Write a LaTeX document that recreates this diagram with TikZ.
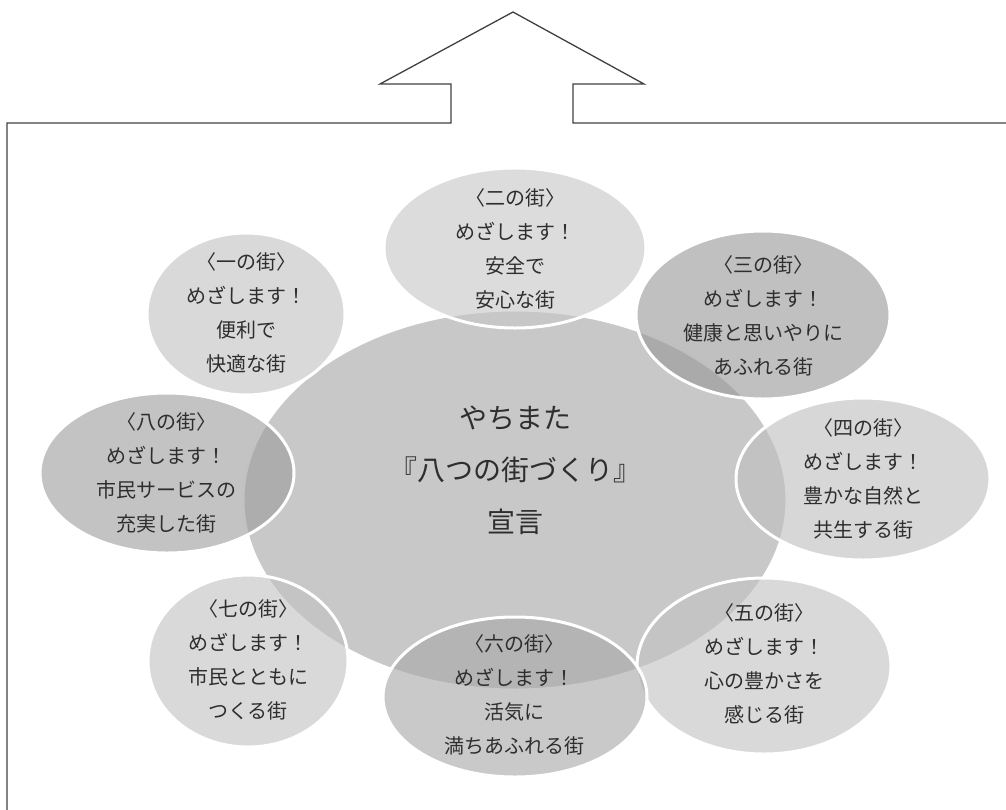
\documentclass[tikz,border=0pt]{standalone}
\usepackage{fontspec}
\newfontfamily\cjk{Noto Sans CJK JP}
\definecolor{framecol}{HTML}{404040}
\definecolor{txt}{HTML}{2E2E2E}
\definecolor{ctr}{HTML}{C8C8C8}
\definecolor{gA}{gray}{0.78}
\definecolor{gB}{gray}{0.76}
\definecolor{gC}{gray}{0.60}
\definecolor{gD}{gray}{0.62}
\definecolor{gE}{gray}{0.75}
\definecolor{gF}{gray}{0.66}
\begin{document}
\begin{tikzpicture}[x=1pt,y=-1pt,
  frame/.style={draw=framecol,line width=1.3pt,line join=miter},
  bubble/.style={fill opacity=0.62,draw=white,line width=3pt},
  bubtext/.style={text=txt,align=center,inner sep=0pt,font=\cjk\fontsize{20pt}{34pt}\selectfont},
  ctrtext/.style={text=txt,align=center,inner sep=0pt,font=\cjk\fontsize{28pt}{52pt}\selectfont}]
\useasboundingbox (0,0) rectangle (1006,809);
% frame with upward arrow
\draw[frame] (7,815) -- (7,123) -- (451,123) -- (451,84) -- (380,84) -- (513,12)
  -- (644,84) -- (573,84) -- (573,123) -- (1012,123);
% central ellipse
\path[fill=ctr,draw=white,line width=3pt] (515,500) ellipse [x radius=272,y radius=190];
% satellites
\path[bubble,fill=gA] (515,248) ellipse [x radius=131,y radius=80];
\path[bubble,fill=gB] (246,314) ellipse [x radius=99,y radius=81];
\path[bubble,fill=gC] (763,315) ellipse [x radius=127,y radius=84];
\path[bubble,fill=gD] (167,473) ellipse [x radius=127,y radius=80];
\path[bubble,fill=gE] (863,479) ellipse [x radius=127,y radius=81];
\path[bubble,fill=gB] (764,666) ellipse [x radius=127,y radius=88];
\path[bubble,fill=gF] (515,697) ellipse [x radius=132,y radius=80];
\path[bubble,fill=gB] (248,661) ellipse [x radius=100,y radius=86];
% texts
\node[ctrtext] (c) at (515,470) {やちまた\\『八つの街づくり』\\宣言};
\node[bubtext] (t2) at (515,249) {〈二の街〉\\めざします！\\安全で\\安心な街};
\node[bubtext] (t1) at (246,313) {〈一の街〉\\めざします！\\便利で\\快適な街};
\node[bubtext] (t3) at (763,316) {〈三の街〉\\めざします！\\健康と思いやりに\\あふれる街};
\node[bubtext] (t8) at (166,473) {〈八の街〉\\めざします！\\市民サービスの\\充実した街};
\node[bubtext] (t4) at (863,479) {〈四の街〉\\めざします！\\豊かな自然と\\共生する街};
\node[bubtext] (t5) at (764,664) {〈五の街〉\\めざします！\\心の豊かさを\\感じる街};
\node[bubtext] (t6) at (514,695) {〈六の街〉\\めざします！\\活気に\\満ちあふれる街};
\node[bubtext] (t7) at (248,660) {〈七の街〉\\めざします！\\市民とともに\\つくる街};
\end{tikzpicture}
\end{document}
